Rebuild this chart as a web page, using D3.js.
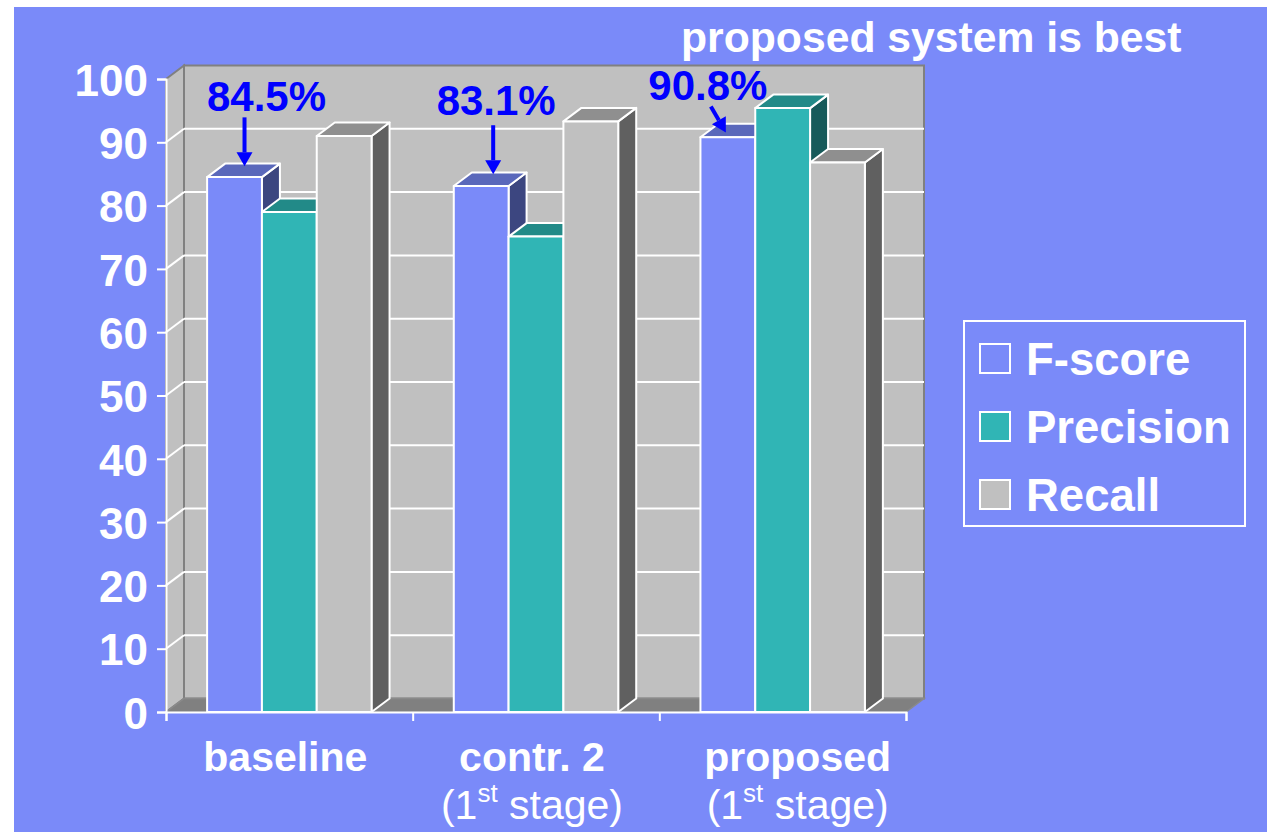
<!DOCTYPE html>
<html>
<head>
<meta charset="utf-8">
<script src="https://cdn.jsdelivr.net/npm/d3@7"></script>
<style>
  html, body { margin: 0; padding: 0; background: #ffffff; }
  svg { display: block; }
  text { font-family: "Liberation Sans", Arial, Helvetica, sans-serif; }
</style>
</head>
<body>
<svg id="chart" width="1267" height="832"></svg>
<script>
// ---- data ----
const categories = ["baseline", "contr. 2", "proposed"];
const subtitles = ["", "stage)", "stage)"];          // second label line: "(1st stage)"
const series = ["F-score", "Precision", "Recall"];
const fscore = [84.5, 83.1, 90.8];
const precision = [79.0, 75.1, 95.4];
const recall = [91.0, 93.3, 86.8];
const yTicks = [0, 10, 20, 30, 40, 50, 60, 70, 80, 90, 100];
const title = "proposed system is best";

// ---- styling / layout ----
const W = 1267, H = 832;
const bg = "#7a8af9";
const palette = {
  "F-score":   { front: "#7a8af9", top: "#5a68bb", side: "#3c4680" },
  "Precision": { front: "#30b5b5", top: "#228a88", side: "#175a5a" },
  "Recall":    { front: "#c0c0c0", top: "#8f8f8f", side: "#606060" }
};
const plot = { left: 166, right: 906, top: 79, bottom: 712 };
const depth = { dx: 18, dy: -13.5 };
// label nudges for the category text boxes
const catLabelNudge = [-4, -4, 15];
// annotation placement relative to the F-score bar top face
const annot = [
  { tip: [1, -4],  tail: [0, -49],   label: [22, -55] },
  { tip: [3, -5],  tail: [0, -49],   label: [3, -59] },
  { tip: [-11, 2], tail: [-15, -26], label: [-18, -32] }
];

const values = { "F-score": fscore, "Precision": precision, "Recall": recall };

const svg = d3.select("#chart");

// slide background
svg.append("rect").attr("x", 14).attr("y", 7).attr("width", W - 14).attr("height", H - 7).attr("fill", bg);

// scales
const y = d3.scaleLinear().domain([0, 100]).range([plot.bottom, plot.top]);
const x = d3.scaleBand().domain(categories).range([plot.left, plot.right]).padding(0);
const xs = d3.scaleBand().domain(series).range([0, x.bandwidth()]).paddingInner(0).paddingOuter(0.75);

const g = svg.append("g");

// back wall
g.append("rect")
  .attr("x", plot.left + depth.dx).attr("y", plot.top + depth.dy)
  .attr("width", plot.right - plot.left).attr("height", plot.bottom - plot.top)
  .attr("fill", "#c0c0c0").attr("stroke", "#808080").attr("stroke-width", 2);

// side wall
g.append("polygon")
  .attr("points", [
    [plot.left, plot.top], [plot.left + depth.dx, plot.top + depth.dy],
    [plot.left + depth.dx, plot.bottom + depth.dy], [plot.left, plot.bottom]
  ].map(p => p.join(",")).join(" "))
  .attr("fill", "#c0c0c0").attr("stroke", "#808080").attr("stroke-width", 2);

// gridlines on both walls
const grid = yTicks.filter(v => v > 0 && v < 100);
g.selectAll("line.gback").data(grid).join("line")
  .attr("class", "gback")
  .attr("x1", plot.left + depth.dx).attr("x2", plot.right + depth.dx)
  .attr("y1", d => y(d) + depth.dy).attr("y2", d => y(d) + depth.dy)
  .attr("stroke", "#ffffff").attr("stroke-width", 2);
g.selectAll("line.gside").data(grid).join("line")
  .attr("class", "gside")
  .attr("x1", plot.left).attr("x2", plot.left + depth.dx)
  .attr("y1", d => y(d)).attr("y2", d => y(d) + depth.dy)
  .attr("stroke", "#ffffff").attr("stroke-width", 2);

// floor
g.append("polygon")
  .attr("points", [
    [plot.left, plot.bottom], [plot.right, plot.bottom],
    [plot.right + depth.dx, plot.bottom + depth.dy], [plot.left + depth.dx, plot.bottom + depth.dy]
  ].map(p => p.join(",")).join(" "))
  .attr("fill", "#808080").attr("stroke", "#8a8a8a").attr("stroke-width", 1.5);

// y axis
const yAxis = d3.axisLeft(y).tickValues(yTicks).tickSize(9).tickPadding(9).tickFormat(d3.format("d"));
const ya = svg.append("g").attr("transform", `translate(${plot.left},0)`).call(yAxis);
ya.select(".domain").attr("stroke", "#ffffff").attr("stroke-width", 2);
ya.selectAll(".tick line").attr("stroke", "#ffffff").attr("stroke-width", 2);
ya.selectAll(".tick text")
  .attr("fill", "#ffffff").attr("font-size", 44).attr("font-weight", "bold")
  .attr("font-family", "Liberation Sans, Arial, sans-serif")
  .attr("dy", "0.37em");

// x axis: tick marks at category boundaries
const xb = d3.scaleLinear().domain([0, categories.length]).range([plot.left, plot.right]);
const xAxis = d3.axisBottom(xb).tickValues(d3.range(categories.length + 1)).tickSize(9).tickFormat("");
const xa = svg.append("g").attr("transform", `translate(0,${plot.bottom})`).call(xAxis);
xa.select(".domain").attr("stroke", "#ffffff").attr("stroke-width", 2);
xa.selectAll(".tick line").attr("stroke", "#ffffff").attr("stroke-width", 2);

// 3D columns, painted left to right
const bars = [];
categories.forEach((c, i) => series.forEach(s => bars.push({ c, i, s, v: values[s][i] })));
const barG = svg.append("g");
bars.forEach(b => {
  const x0 = x(b.c) + xs(b.s), w = xs.bandwidth();
  const y0 = y(b.v), base = y(0);
  const col = palette[b.s];
  const pts = a => a.map(p => p.join(",")).join(" ");
  const bg_ = barG.append("g");
  bg_.append("polygon")
    .attr("points", pts([[x0 + w, y0], [x0 + w + depth.dx, y0 + depth.dy], [x0 + w + depth.dx, base + depth.dy], [x0 + w, base]]))
    .attr("fill", col.side);
  bg_.append("polygon")
    .attr("points", pts([[x0, y0], [x0 + depth.dx, y0 + depth.dy], [x0 + w + depth.dx, y0 + depth.dy], [x0 + w, y0]]))
    .attr("fill", col.top);
  bg_.append("rect").attr("x", x0).attr("y", y0).attr("width", w).attr("height", base - y0)
    .attr("fill", col.front);
  bg_.selectAll("*").attr("stroke", "#ffffff").attr("stroke-width", 2).attr("stroke-linejoin", "round");
});

// category labels
const lab = svg.append("g").attr("fill", "#ffffff");
categories.forEach((c, i) => {
  const cx = x(c) + x.bandwidth() / 2 + catLabelNudge[i];
  lab.append("text").attr("x", cx).attr("y", 771).attr("text-anchor", "middle")
    .attr("font-size", 41).attr("font-weight", "bold").text(c);
  if (subtitles[i]) {
    const t = lab.append("text").attr("x", cx).attr("y", 819).attr("text-anchor", "middle")
      .attr("font-size", 41);
    t.append("tspan").text("(1");
    t.append("tspan").attr("font-size", 26).attr("dy", -17).text("st");
    t.append("tspan").attr("dy", 17).text(" " + subtitles[i]);
  }
});

// F-score callouts
const ann = svg.append("g");
categories.forEach((c, i) => {
  const v = fscore[i];
  const x0 = x(c) + xs("F-score"), w = xs.bandwidth();
  const tcx = x0 + w / 2 + depth.dx / 2, tcy = y(v) + depth.dy / 2;
  const a = annot[i];
  const tip = [tcx + a.tip[0], tcy + a.tip[1]];
  const tail = [tip[0] + a.tail[0], tip[1] + a.tail[1]];
  const ang = Math.atan2(tip[1] - tail[1], tip[0] - tail[0]);
  const headLen = 14, headW = 8;
  const hb = [tip[0] - headLen * Math.cos(ang), tip[1] - headLen * Math.sin(ang)];
  ann.append("line")
    .attr("x1", tail[0]).attr("y1", tail[1]).attr("x2", hb[0]).attr("y2", hb[1])
    .attr("stroke", "#0000ff").attr("stroke-width", 4);
  const nx = -Math.sin(ang), ny = Math.cos(ang);
  ann.append("polygon")
    .attr("points", [tip, [hb[0] + nx * headW, hb[1] + ny * headW], [hb[0] - nx * headW, hb[1] - ny * headW]]
      .map(p => p.join(",")).join(" "))
    .attr("fill", "#0000ff");
  ann.append("text")
    .attr("x", tip[0] + a.label[0]).attr("y", tip[1] + a.label[1])
    .attr("text-anchor", "middle").attr("font-size", 42).attr("font-weight", "bold")
    .attr("fill", "#0000ff").text(d3.format(".1f")(v) + "%");
});

// title
svg.append("text").attr("x", 681).attr("y", 52).attr("font-size", 42.7).attr("font-weight", "bold")
  .attr("fill", "#ffffff").text(title);

// legend
const leg = svg.append("g");
leg.append("rect").attr("x", 964).attr("y", 321).attr("width", 281).attr("height", 205)
  .attr("fill", "none").attr("stroke", "#ffffff").attr("stroke-width", 2);
series.forEach((s, i) => {
  const yy = 344 + i * 68;
  leg.append("rect").attr("x", 980).attr("y", yy).attr("width", 30).attr("height", 29)
    .attr("fill", palette[s].front).attr("stroke", "#ffffff").attr("stroke-width", 2);
  leg.append("text").attr("x", 1026).attr("y", yy + 31).attr("font-size", 45.5).attr("font-weight", "bold")
    .attr("fill", "#ffffff").text(s);
});
</script>
</body>
</html>
